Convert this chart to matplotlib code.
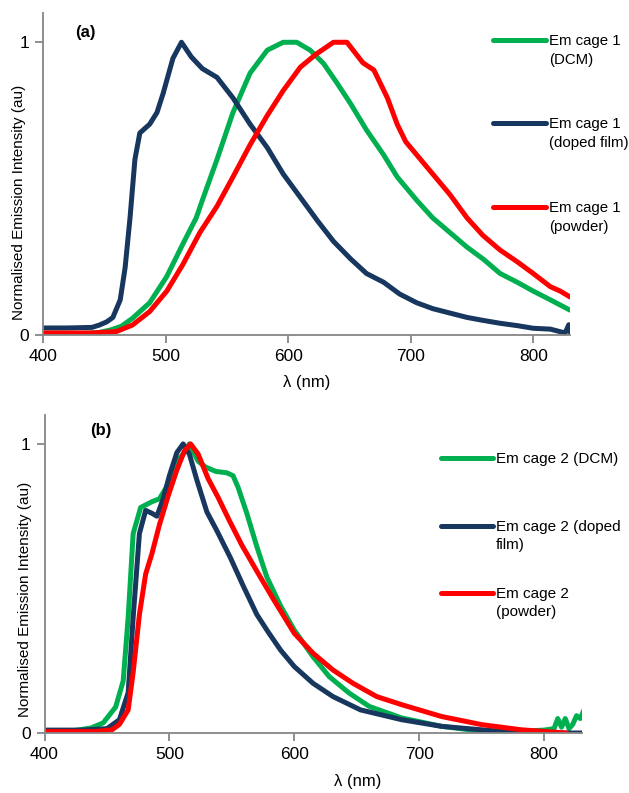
import matplotlib
matplotlib.use("Agg")
import matplotlib.pyplot as plt
from matplotlib.lines import Line2D

plt.rcParams['font.family'] = ['Liberation Sans', 'DejaVu Sans']

# ---- panel (a): cage 1 ----
wl_a_film = [400, 420, 440, 446, 452, 457, 463, 467, 471, 475, 479, 487, 493, 498, 506, 513,
             521, 530, 542, 555, 569, 583, 596, 610, 624, 637, 651, 664, 678, 691, 705, 718,
             732, 746, 759, 773, 787, 800, 814, 826, 829, 830]
em_a_film = [0.024, 0.024, 0.026, 0.034, 0.045, 0.06, 0.12, 0.23, 0.40, 0.60, 0.69, 0.72, 0.76, 0.825,
             0.945, 1.0, 0.95, 0.91, 0.88, 0.81, 0.72, 0.64, 0.55, 0.47, 0.39, 0.32, 0.26, 0.21,
             0.18, 0.14, 0.11, 0.09, 0.075, 0.06, 0.05, 0.04, 0.032, 0.023, 0.02, 0.007, 0.035, 0.01]

wl_a_dcm = [400, 430, 445, 455, 464, 473, 487, 501, 514, 525, 530, 542, 555, 569, 583, 596,
            607, 618, 629, 640, 651, 664, 678, 689, 705, 718, 732, 746, 759, 773, 787, 800,
            814, 830]
em_a_dcm = [0.005, 0.005, 0.008, 0.017, 0.03, 0.057, 0.11, 0.20, 0.31, 0.40, 0.46, 0.60, 0.76,
            0.895, 0.973, 1.0, 1.0, 0.973, 0.927, 0.86, 0.79, 0.70, 0.615, 0.54, 0.46, 0.40,
            0.35, 0.30, 0.26, 0.21, 0.18, 0.15, 0.12, 0.085]

wl_a_pow = [400, 440, 460, 473, 487, 501, 514, 528, 542, 555, 569, 583, 596, 610, 623, 637,
            648, 661, 670, 681, 689, 696, 705, 718, 732, 746, 759, 773, 787, 800, 814, 822, 830]
em_a_pow = [0.007, 0.007, 0.012, 0.034, 0.08, 0.15, 0.24, 0.35, 0.44, 0.54, 0.65, 0.75, 0.835,
            0.915, 0.96, 1.0, 1.0, 0.93, 0.905, 0.81, 0.72, 0.66, 0.615, 0.55, 0.48, 0.40, 0.34,
            0.29, 0.25, 0.21, 0.165, 0.15, 0.13]

# ---- panel (b): cage 2 ----
wl_b_dcm = [400, 420, 437, 447, 457, 463, 467, 471, 477, 486, 492, 499, 506, 512, 516, 523,
            529, 537, 546, 551, 555, 562, 570, 578, 589, 600, 615, 628, 644, 660, 686, 718,
            750, 782, 800, 808, 811, 814, 817, 820, 823, 826, 829, 832]
em_b_dcm = [0.006, 0.006, 0.017, 0.035, 0.09, 0.18, 0.40, 0.69, 0.78, 0.80, 0.81, 0.86, 0.94,
            0.97, 1.0, 0.94, 0.92, 0.905, 0.90, 0.89, 0.85, 0.76, 0.645, 0.54, 0.44, 0.356,
            0.264, 0.195, 0.138, 0.092, 0.052, 0.023, 0.006, 0.006, 0.01, 0.015, 0.05, 0.02,
            0.05, 0.015, 0.03, 0.06, 0.05, 0.08]

wl_b_film = [400, 430, 450, 460, 467, 471, 476, 481, 486, 490, 495, 500, 506, 511, 516, 522,
             530, 538, 549, 559, 570, 579, 589, 600, 615, 631, 653, 686, 718, 750, 782, 832]
em_b_film = [0.01, 0.01, 0.015, 0.046, 0.14, 0.40, 0.69, 0.77, 0.76, 0.75, 0.81, 0.89, 0.97,
             1.0, 0.965, 0.875, 0.765, 0.70, 0.605, 0.51, 0.41, 0.35, 0.287, 0.23, 0.172, 0.126,
             0.08, 0.046, 0.023, 0.011, 0.0, 0.0]

wl_b_pow = [400, 440, 454, 460, 467, 471, 476, 481, 486, 492, 499, 506, 512, 517, 523, 531,
            539, 548, 558, 570, 583, 600, 615, 631, 647, 666, 686, 718, 750, 782, 818]
em_b_pow = [0.005, 0.005, 0.011, 0.03, 0.08, 0.21, 0.41, 0.55, 0.62, 0.72, 0.82, 0.91, 0.975,
            1.0, 0.965, 0.88, 0.815, 0.735, 0.65, 0.56, 0.465, 0.345, 0.276, 0.218, 0.172,
            0.126, 0.098, 0.057, 0.029, 0.011, 0.0]

labels_a = ['Em cage 1\n(DCM)', 'Em cage 1\n(doped film)', 'Em cage 1\n(powder)']
labels_b = ['Em cage 2 (DCM)', 'Em cage 2 (doped\nfilm)', 'Em cage 2\n(powder)']

green, navy, red = '#00B050', '#17375E', '#FF0000'
spine_col = '#868686'
lw = 3.6
W, H = 629, 793

fig = plt.figure(figsize=(W / 100, H / 100), dpi=100)
ax_a = fig.add_axes([43/W, 1 - 335/H, 527/W, 322/H])
ax_b = fig.add_axes([44.5/W, 60/H, 537/W, 318/H])


def style_axes(ax):
    ax.set_xlim(400, 830)
    ax.set_ylim(0, 1.1)
    ax.set_xticks([400, 500, 600, 700, 800])
    ax.set_yticks([0, 1])
    ax.set_yticklabels(['0', '1'])
    for side in ['top', 'right']:
        ax.spines[side].set_visible(False)
    for side in ['left', 'bottom']:
        ax.spines[side].set_color(spine_col)
        ax.spines[side].set_linewidth(1.3)
    ax.tick_params(direction='out', length=6, width=1.3, color=spine_col,
                   labelsize=12.5, pad=4)
    ax.set_ylabel('Normalised Emission Intensity (au)', fontsize=11)
    ax.set_xlabel('λ (nm)', fontsize=12, va='top')


def key(x0, x1, y, text, color, size, spacing):
    # legend entry: short line with label, first text line level with the line
    fig.add_artist(Line2D([x0/W, x1/W], [1 - y/H, 1 - y/H], transform=fig.transFigure,
                          color=color, lw=lw, solid_capstyle='round'))
    fig.text((x1 + 3)/W, 1 - (y - 0.4*size*100/72)/H, text, fontsize=size,
             va='top', ha='left', linespacing=spacing)


kw = dict(lw=lw, solid_capstyle='round', solid_joinstyle='round')

# panel (a)
ax_a.plot(wl_a_dcm, em_a_dcm, color=green, **kw)
ax_a.plot(wl_a_film, em_a_film, color=navy, **kw)
ax_a.plot(wl_a_pow, em_a_pow, color=red, **kw)
style_axes(ax_a)
ax_a.yaxis.set_label_coords(-0.032, 0.413)
ax_a.xaxis.set_label_coords(0.5, -0.125)
for y, lab, c in zip([40, 123, 207], labels_a, [green, navy, red]):
    key(493, 546, y, lab, c, 10.8, 1.45)
fig.text(75/W, 1 - 33/H, '(a)', fontsize=12, fontweight='bold', va='center')

# panel (b)
ax_b.plot(wl_b_dcm, em_b_dcm, color=green, **kw)
ax_b.plot(wl_b_film, em_b_film, color=navy, **kw)
ax_b.plot(wl_b_pow, em_b_pow, color=red, **kw)
style_axes(ax_b)
ax_b.yaxis.set_label_coords(-0.023, 0.42)
ax_b.xaxis.set_label_coords(0.584, -0.13)
for y, lab, c in zip([458, 526, 593], labels_b, [green, navy, red]):
    key(441, 493, y, lab, c, 11, 1.38)
fig.text(90/W, 1 - 430/H, '(b)', fontsize=12, fontweight='bold', va='center')

fig.savefig('out.png', dpi=100)
